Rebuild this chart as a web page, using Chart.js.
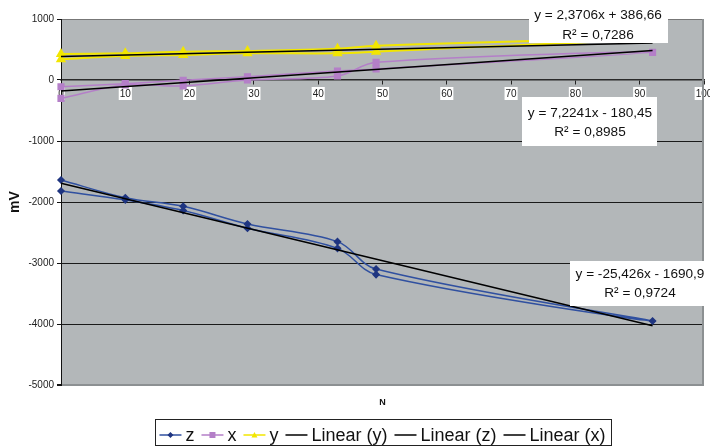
<!DOCTYPE html>
<html>
<head>
<meta charset="utf-8">
<script src="https://cdn.jsdelivr.net/npm/chart.js@4/dist/chart.umd.min.js"></script>
<style>
  html, body { margin: 0; padding: 0; background: #fff; }
  #wrap { width: 710px; height: 446px; position: relative; }
</style>
</head>
<body>
<div id="wrap"><canvas id="chart_n"></canvas></div>
<script>
// N values in measurement order (out to 92 and back again)
var n_values = [0, 10, 19, 29, 43, 49, 92, 49, 43, 29, 19, 10, 0];
var z_values = [-1640, -1930, -2070, -2360, -2650, -3100, -3950, -3190, -2760, -2430, -2140, -1965, -1820];
var x_values = [-300, -80, -98, 0, 66, 290, 454, 180, 148, 54, -5, -60, -110];
var y_values = [339, 393, 410, 437, 437, 464, 680, 563, 513, 475, 464, 437, 426];

// trend line end points
var trend_n = [0, 92];
var trend_y = [387, 605];
var trend_z = [-1691, -4030];
var trend_x = [-180, 484];

var y_ticks = [1000, 0, -1000, -2000, -3000, -4000, -5000];
var x_ticks = [0, 10, 20, 30, 40, 50, 60, 70, 80, 90, 100];

var trend_labels = [
    ["y = 2,3706x + 386,66", "R² = 0,7286"],
    ["y = 7,2241x - 180,45", "R² = 0,8985"],
    ["y = -25,426x - 1690,9", "R² = 0,9724"]
];

function pares(xs, ys) {
    var out = [];
    for (var i = 0; i < xs.length; i++) out.push({x: xs[i], y: ys[i]});
    return out;
}

var FONT = '"Liberation Sans", Arial, sans-serif';
var GRIS = '#b3b7b9';

var datos = {
    datasets: [
        {label: "Linear (y)", data: pares(trend_n, trend_y), borderColor: "#000", borderWidth: 1.5, pointRadius: 0, order: 0, linea: true},
        {label: "Linear (z)", data: pares(trend_n, trend_z), borderColor: "#000", borderWidth: 1.5, pointRadius: 0, order: 0, linea: true},
        {label: "Linear (x)", data: pares(trend_n, trend_x), borderColor: "#000", borderWidth: 1.5, pointRadius: 0, order: 0, linea: true},
        {label: "z", data: pares(n_values, z_values), borderColor: "#3050a0", backgroundColor: "#1f3580",
            borderWidth: 1.5, pointStyle: "rectRot", pointRadius: 3, pointBorderColor: "#1f3580", order: 1},
        {label: "x", data: pares(n_values, x_values), borderColor: "#b47fc8", backgroundColor: "#b47fc8",
            borderWidth: 1.5, pointStyle: "rect", pointRadius: 4, order: 1},
        {label: "y", data: pares(n_values, y_values), borderColor: "#f2e600", backgroundColor: "#f2e600",
            borderWidth: 2, pointStyle: "triangle", pointRadius: 4, order: 1}
    ]
};

// gray plot area + right border, equation boxes, x title
var fondo = {
    id: 'fondo',
    beforeDraw: function(chart) {
        var a = chart.chartArea, ctx = chart.ctx;
        ctx.save();
        ctx.fillStyle = GRIS;
        ctx.fillRect(a.left, a.top, a.right - a.left, a.bottom - a.top);
        ctx.restore();
    },
    afterDatasetsDraw: function(chart) {
        var a = chart.chartArea, ctx = chart.ctx;
        ctx.save();
        ctx.strokeStyle = '#8c9092';
        ctx.lineWidth = 2;
        ctx.beginPath();
        ctx.moveTo(a.right - 1, a.top);
        ctx.lineTo(a.right - 1, a.bottom);
        ctx.stroke();

        // trendline equation boxes
        var cajas = [
            {l: 529, t: 4, r: 668, b: 43, cx: 598, ys: [15, 35]},
            {l: 522, t: 97, r: 657, b: 146, cx: 590, ys: [113, 132]},
            {l: 570, t: 261, r: 714, b: 306, cx: 640, ys: [274, 293]}
        ];
        ctx.font = '13.6px ' + FONT;
        ctx.textAlign = 'center';
        ctx.textBaseline = 'middle';
        cajas.forEach(function(c, i) {
            ctx.fillStyle = '#fff';
            ctx.fillRect(c.l, c.t, c.r - c.l, c.b - c.t);
            ctx.fillStyle = '#111';
            ctx.fillText(trend_labels[i][0], c.cx, c.ys[0]);
            ctx.fillText(trend_labels[i][1], c.cx, c.ys[1]);
        });

        // x axis title
        ctx.font = 'bold 9px ' + FONT;
        ctx.fillStyle = '#111';
        ctx.fillText('N', (a.left + a.right) / 2, 403);
        ctx.restore();
    }
};

function marcador(ctx, estilo, x, y, r, color) {
    ctx.fillStyle = color;
    ctx.beginPath();
    if (estilo === 'rectRot') {
        ctx.moveTo(x, y - r); ctx.lineTo(x + r, y); ctx.lineTo(x, y + r); ctx.lineTo(x - r, y);
    } else if (estilo === 'rect') {
        ctx.rect(x - r, y - r, 2 * r, 2 * r);
    } else if (estilo === 'triangle') {
        ctx.moveTo(x, y - r); ctx.lineTo(x + r, y + r * 0.8); ctx.lineTo(x - r, y + r * 0.8);
    }
    ctx.closePath();
    ctx.fill();
}

// legend with line + marker, like the spreadsheet one
var leyenda = {
    id: 'leyenda',
    afterDraw: function(chart) {
        var ctx = chart.ctx, a = chart.chartArea;
        var orden = [3, 4, 5, 0, 1, 2];
        ctx.save();
        ctx.font = '18px ' + FONT;
        var total = 0;
        orden.forEach(function(i, k) {
            total += 22 + 4 + ctx.measureText(chart.data.datasets[i].label).width + (k < orden.length - 1 ? 7 : 0);
        });
        var cx = (a.left + a.right) / 2;
        var x = cx - total / 2;
        var yc = 435;
        ctx.strokeStyle = '#222';
        ctx.lineWidth = 1;
        ctx.strokeRect(Math.round(x - 4) + 0.5, 419.5, Math.round(total + 10), 26);
        ctx.textBaseline = 'middle';
        ctx.textAlign = 'left';
        orden.forEach(function(i) {
            var ds = chart.data.datasets[i];
            ctx.strokeStyle = ds.borderColor;
            ctx.lineWidth = 1.5;
            ctx.beginPath();
            ctx.moveTo(x, yc);
            ctx.lineTo(x + 22, yc);
            ctx.stroke();
            if (!ds.linea) marcador(ctx, ds.pointStyle, x + 11, yc, 3, ds.backgroundColor);
            x += 26;
            ctx.fillStyle = '#111';
            ctx.fillText(ds.label, x, yc + 1);
            x += ctx.measureText(ds.label).width + 7;
        });
        ctx.restore();
    }
};

var canvas = document.getElementById('chart_n').getContext('2d');
window.grafico = new Chart(canvas, {
    type: 'scatter',
    data: datos,
    options: {
        responsive: true,
        maintainAspectRatio: false,
        animation: false,
        showLine: true,
        layout: {padding: {left: 0, top: 19, right: 3, bottom: 61}},
        elements: {
            line: {tension: 0.35, fill: false},
            point: {borderWidth: 0}
        },
        datasets: {scatter: {clip: false}},
        plugins: {
            legend: {display: false},
            tooltip: {enabled: false}
        },
        scales: {
            x: {
                type: 'linear',
                position: {y: 0},
                min: 0,
                max: 100,
                afterBuildTicks: function(s) { s.ticks = x_ticks.map(function(v) { return {value: v}; }); },
                afterFit: function(s) { s.paddingLeft = 0; s.paddingRight = 0; },
                grid: {drawOnChartArea: false, tickLength: 4, tickColor: '#222'},
                border: {color: '#2a2a2a', width: 1.5},
                ticks: {
                    font: {family: FONT, size: 10},
                    color: '#222',
                    padding: 4,
                    maxRotation: 0,
                    callback: function(v) { return String(v); },
                    showLabelBackdrop: true,
                    backdropColor: '#fff',
                    backdropPadding: {top: 1, bottom: 0, left: 1, right: 1}
                }
            },
            y: {
                min: -5000,
                max: 1000,
                afterBuildTicks: function(s) { s.ticks = y_ticks.map(function(v) { return {value: v}; }); },
                afterFit: function(s) { s.width = 61; },
                grid: {
                    color: function(c) {
                        if (c.tick && c.tick.value === -5000) return '#8c9092';
                        if (c.tick && c.tick.value === 1000) return '#777';
                        return '#1a1a1a';
                    },
                    lineWidth: function(c) { return (c.tick && c.tick.value === -5000) ? 2 : 1; },
                    tickLength: 4,
                    tickColor: '#111'
                },
                border: {color: '#111', width: 1},
                title: {
                    display: true,
                    text: 'mV',
                    font: {family: FONT, size: 14, weight: 'bold'},
                    color: '#111',
                    padding: {top: 7, bottom: 0}
                },
                ticks: {
                    font: {family: FONT, size: 10},
                    color: '#222',
                    padding: 3,
                    callback: function(v) { return String(v); }
                }
            }
        }
    },
    plugins: [fondo, leyenda]
});
</script>
</body>
</html>
